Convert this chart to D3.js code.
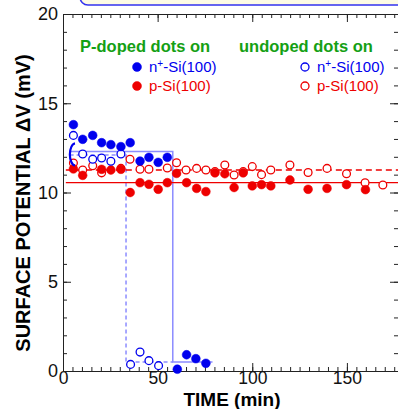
<!DOCTYPE html>
<html>
<head>
<meta charset="utf-8">
<script src="https://cdn.jsdelivr.net/npm/d3@7"></script>
<style>
  body { margin: 0; background: #fff; }
  svg { display: block; font-family: "Liberation Sans", Arial, sans-serif; }
</style>
</head>
<body>
<svg id="chart" width="398" height="409"></svg>
<script>
// P-doped dots on n+-Si(100)  (filled blue)
const pdnTime = [5.5, 10.4, 15.7, 20.4, 25.3, 30.6, 35.5, 40.7, 45.4, 50.3, 55.1, 60.4, 65.3, 70.2, 75.5];
const pdnVal  = [13.8, 12.98, 13.2, 12.79, 12.68, 12.57, 12.79, 11.76, 11.97, 11.69, 11.97, 0.1, 0.91, 0.69, 0.43];

// undoped dots on n+-Si(100)  (open blue)
const udnTime = [5.5, 10.4, 15.7, 20.4, 25.3, 30.6, 35.7, 40.7, 45.4, 50.5];
const udnVal  = [13.2, 12.16, 11.86, 11.93, 11.75, 12.16, 0.37, 1.06, 0.58, 0.3];

// P-doped dots on p-Si(100)  (filled red)
const pdpTime = [5.5, 10.4, 20.4, 25.3, 30.6, 35.5, 40.7, 45.4, 50.3, 55.1, 60, 65.3, 70.6, 75.5, 80.3, 85.5, 90.4, 95.2, 100, 104.9, 109.8, 119.9, 129.5, 139.5, 149.8, 159.8];
const pdpVal  = [11.32, 10.96, 11.3, 11.26, 11.3, 10.0, 10.55, 10.46, 10.18, 10.55, 11.07, 10.55, 10.23, 10.05, 11.1, 11.05, 10.28, 11.1, 10.37, 10.44, 10.37, 10.7, 10.18, 10.23, 10.44, 10.16];

// undoped dots on p-Si(100)  (open red)
const udpTime = [5.5, 10.4, 15.7, 20.4, 30.6, 35.4, 40.7, 45.4, 55.1, 60, 65, 70.6, 75.5, 80.3, 85.5, 90.4, 95.2, 100, 104.9, 109.8, 119.9, 129.5, 139.5, 149.8, 159.6, 169];
const udpVal  = [11.65, 11.26, 11.5, 11.1, 11.35, 11.86, 11.3, 11.3, 11.37, 11.67, 11.26, 11.35, 11.26, 11.17, 11.54, 10.98, 11.17, 11.45, 11.0, 11.26, 11.54, 11.12, 11.35, 11.05, 10.55, 10.42];

// average levels on p-Si
const meanDoped = 10.55;
const meanUndoped = 11.26;

// guide outlines for the n+-Si traces [time, value]
const solidGuide  = [[3.5, 12.3], [58, 12.3], [58, 0.5], [79, 0.5]];
const dashedGuide = [[3.5, 12.1], [33.3, 12.1], [33.3, 0.5], [58, 0.5]];

const xMajor = [0, 50, 100, 150];
const yMajor = [0, 5, 10, 15, 20];

const BLUE = '#0000ee';
const RED = '#ee0000';
const GREEN = '#14a014';
const GUIDE = '#8c8cff';

const svg = d3.select('#chart');
const plotL = 63, plotR = 398, plotT = 14, plotB = 371;

const x = d3.scaleLinear().domain([0, 177]).range([plotL, plotR]);
const y = d3.scaleLinear().domain([0, 20]).range([plotB, plotT]);

// cream banner at top
svg.append('rect')
  .attr('x', 80).attr('y', -20)
  .attr('width', 340).attr('height', 25)
  .attr('rx', 8)
  .style('fill', '#fdfbe4')
  .style('stroke', '#3333ee')
  .style('stroke-width', 1.5);

// axes: major + minor ticks, all pointing inward
function drawAxis(axisFn, scale, transform, major, minor, labels) {
  const gMinor = svg.append('g').attr('transform', transform)
    .call(axisFn(scale).tickValues(minor).tickSize(-4).tickSizeOuter(0).tickFormat(''));
  const gMajor = svg.append('g').attr('transform', transform)
    .call(axisFn(scale).tickValues(major).tickSize(-8).tickSizeOuter(0)
      .tickPadding(labels ? 14 : 0).tickFormat(labels ? d3.format('d') : ''));
  [gMinor, gMajor].forEach(g => {
    g.select('.domain').style('stroke', '#222');
    g.selectAll('.tick line').style('stroke', '#222');
    g.selectAll('text').style('font-size', '18px').style('fill', '#111')
      .style('font-family', '"Liberation Sans", Arial, sans-serif');
  });
  return gMajor;
}

const xMinor = d3.range(0, 178, 5);
const yMinor = d3.range(0, 21, 1);

const gx = drawAxis(d3.axisBottom, x, `translate(0,${plotB})`, xMajor, xMinor, true);
drawAxis(d3.axisTop, x, `translate(0,${plotT})`, xMajor, xMinor, false);
const gy = drawAxis(d3.axisLeft, y, `translate(${plotL},0)`, yMajor, yMinor, true);
drawAxis(d3.axisRight, y, `translate(${plotR},0)`, yMajor, yMinor, false);
gy.selectAll('text').attr('x', -5);
gx.selectAll('text').attr('y', 1).style('font-size', '17.5px');

// axis titles
svg.append('text')
  .attr('x', 232).attr('y', 405.5)
  .attr('text-anchor', 'middle')
  .style('font-size', '19px').style('font-weight', 'bold')
  .text('TIME (min)');

svg.append('text')
  .attr('transform', 'translate(30,203) rotate(-90)')
  .attr('text-anchor', 'middle')
  .style('font-size', '20px').style('font-weight', 'bold')
  .text('SURFACE POTENTIAL \u0394V (mV)');

// guide boxes
const line = d3.line().x(d => x(d[0])).y(d => y(d[1]));
svg.append('path').attr('d', line(solidGuide))
  .style('fill', 'none').style('stroke', GUIDE).style('stroke-width', 1.5);
svg.append('path').attr('d', line(dashedGuide))
  .style('fill', 'none').style('stroke', GUIDE).style('stroke-width', 1.5)
  .style('stroke-dasharray', '4,3');

// mean lines
svg.append('line')
  .attr('x1', x(1.5)).attr('x2', x(177))
  .attr('y1', y(meanDoped)).attr('y2', y(meanDoped))
  .style('stroke', RED).style('stroke-width', 1.3);
svg.append('line')
  .attr('x1', x(1.5)).attr('x2', x(177))
  .attr('y1', y(meanUndoped)).attr('y2', y(meanUndoped))
  .style('stroke', RED).style('stroke-width', 1.3)
  .style('stroke-dasharray', '6,4');

// markers
function dots(times, vals, color, filled) {
  svg.append('g').selectAll('circle')
    .data(times.map((t, i) => [t, vals[i]]))
    .enter()
    .append('circle')
    .attr('cx', d => x(d[0]))
    .attr('cy', d => y(d[1]))
    .attr('r', filled ? 4.4 : 3.9)
    .style('fill', filled ? color : '#fff')
    .style('stroke', color)
    .style('stroke-width', filled ? 0.5 : 1.3);
}

dots(udpTime, udpVal, RED, false);
dots(pdpTime, pdpVal, RED, true);
dots(udnTime, udnVal, BLUE, false);
dots(pdnTime, pdnVal, BLUE, true);

// blue bracket grouping the n+-Si start values
svg.append('path')
  .attr('d', `M75,${y(12.75)} A5.5,11 0 0 0 75,${y(11.52)}`)
  .style('fill', 'none').style('stroke', BLUE).style('stroke-width', 2.2);

// legend
const legendTitles = [
  { label: 'P-doped dots on', x: 80 },
  { label: 'undoped dots on', x: 239 }
];
svg.selectAll('.lt')
  .data(legendTitles)
  .enter()
  .append('text')
  .attr('x', d => d.x).attr('y', 52)
  .style('font-size', '16.5px').style('font-weight', 'bold')
  .style('fill', GREEN)
  .text(d => d.label);

const legendItems = [
  { cx: 137, cy: 67, color: BLUE, filled: true, sub: 'n', sup: '+', rest: '-Si(100)' },
  { cx: 137, cy: 86, color: RED, filled: true, sub: 'p-Si(100)', sup: '', rest: '' },
  { cx: 305, cy: 67, color: BLUE, filled: false, sub: 'n', sup: '+', rest: '-Si(100)' },
  { cx: 305, cy: 86, color: RED, filled: false, sub: 'p-Si(100)', sup: '', rest: '' }
];
legendItems.forEach(d => {
  svg.append('circle')
    .attr('cx', d.cx).attr('cy', d.cy)
    .attr('r', d.filled ? 4.5 : 4)
    .style('fill', d.filled ? d.color : '#fff')
    .style('stroke', d.color)
    .style('stroke-width', d.filled ? 0.5 : 1.3);
  const t = svg.append('text')
    .attr('x', d.cx + 12).attr('y', d.cy + 5)
    .style('font-size', '15px')
    .style('fill', d.color);
  t.append('tspan').text(d.sub);
  if (d.sup) {
    t.append('tspan').attr('dy', -5).style('font-size', '10px').text(d.sup);
    t.append('tspan').attr('dy', 5).text(d.rest);
  }
});
</script>
</body>
</html>
